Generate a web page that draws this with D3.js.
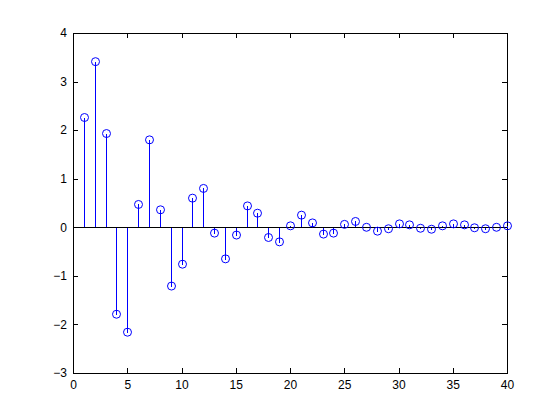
<!DOCTYPE html>
<html>
<head>
<meta charset="utf-8">
<script src="https://cdn.jsdelivr.net/npm/d3@7"></script>
<style>
  html, body { margin: 0; padding: 0; background: #ffffff; }
  svg { display: block; }
</style>
</head>
<body>
<script>
const xValues = [1,2,3,4,5,6,7,8,9,10,11,12,13,14,15,16,17,18,19,20,21,22,23,24,25,26,27,28,29,30,31,32,33,34,35,36,37,38,39,40];
const yValues = [2.26,3.41,1.93,-1.79,-2.16,0.47,1.80,0.36,-1.21,-0.76,0.60,0.80,-0.12,-0.65,-0.16,0.44,0.29,-0.21,-0.30,0.03,0.25,0.09,-0.14,-0.12,0.06,0.12,0.00,-0.08,-0.03,0.07,0.05,-0.02,-0.04,0.03,0.07,0.05,-0.01,-0.03,0.00,0.03];
const xTicks = [0,5,10,15,20,25,30,35,40];
const yTicks = [-3,-2,-1,0,1,2,3,4];

(function () {
const W = 560, H = 420;
const mLeft = 73, mRight = 507, mTop = 33, mBottom = 373;
const stemColor = "#0000ff";

const svg = d3.select("body").append("svg").attr("width", W).attr("height", H);

const x = d3.scaleLinear().domain([0, 40]).range([mLeft, mRight]);
const y = d3.scaleLinear().domain([-3, 4]).range([mBottom, mTop]);

const font = "'Liberation Sans', Arial, Helvetica, sans-serif";
const tickLen = 5;

const xAxis = d3.axisBottom(x).tickValues(xTicks).tickFormat(d3.format("d")).tickSizeInner(-tickLen).tickSizeOuter(0).tickPadding(7);
const yAxis = d3.axisLeft(y).tickValues(yTicks).tickFormat(d3.format("d")).tickSizeInner(-tickLen).tickSizeOuter(0).tickPadding(6);
const xAxisTop = d3.axisTop(x).tickValues(xTicks).tickFormat("").tickSizeInner(-tickLen).tickSizeOuter(0);
const yAxisRight = d3.axisRight(y).tickValues(yTicks).tickFormat("").tickSizeInner(-tickLen).tickSizeOuter(0);

function styleAxis(g) {
  g.select(".domain").remove();
  g.selectAll(".tick line").attr("stroke", "#000").attr("shape-rendering", "crispEdges");
  g.selectAll(".tick text").attr("fill", "#000").style("font-family", font).style("font-size", "12px");
}

svg.append("g").attr("transform", `translate(0,${mBottom})`).call(xAxis).call(styleAxis);
svg.append("g").attr("transform", `translate(${mLeft},0)`).call(yAxis).call(styleAxis);
svg.append("g").attr("transform", `translate(0,${mTop})`).call(xAxisTop).call(styleAxis);
svg.append("g").attr("transform", `translate(${mRight},0)`).call(yAxisRight).call(styleAxis);

svg.append("rect")
  .attr("x", mLeft + 0.5).attr("y", mTop + 0.5)
  .attr("width", mRight - mLeft).attr("height", mBottom - mTop)
  .attr("fill", "none").attr("stroke", "#000").attr("stroke-width", 1)
  .attr("shape-rendering", "crispEdges");

const data = xValues.map((v, i) => ({ x: v, y: yValues[i] }));
const y0 = Math.round(y(0));

svg.append("g").attr("class", "stems").selectAll("rect").data(data).join("rect")
  .attr("x", d => Math.round(x(d.x)))
  .attr("width", 1)
  .attr("y", d => Math.min(y0, y(d.y)))
  .attr("height", d => Math.abs(y(d.y) - y0) + 1)
  .attr("fill", stemColor)
  .attr("shape-rendering", "crispEdges");

svg.append("rect")
  .attr("x", x(0)).attr("width", x(40) - x(0))
  .attr("y", y0).attr("height", 1)
  .attr("fill", "#000")
  .attr("shape-rendering", "crispEdges");

svg.append("g").selectAll("circle").data(data).join("circle")
  .attr("cx", d => Math.round(x(d.x)) + 0.5).attr("cy", d => y(d.y))
  .attr("r", 4)
  .attr("fill", "none").attr("stroke", stemColor).attr("stroke-width", 1);
})();
</script>
</body>
</html>
